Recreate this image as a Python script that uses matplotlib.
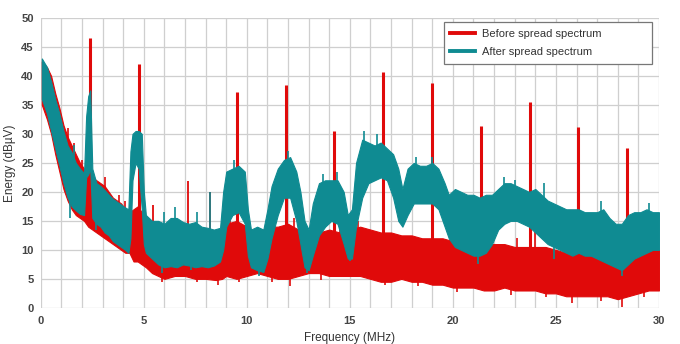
import matplotlib
matplotlib.use("Agg")
import matplotlib.pyplot as plt
import numpy as np

plt.rcParams["font.family"] = ["Liberation Sans", "DejaVu Sans"]

# "after spread spectrum" envelope (MHz, dBuV upper, dBuV lower)
after_f = [0.05, 0.3, 0.5, 0.7, 0.9, 1.1, 1.3, 1.5, 1.7, 1.9, 2.1, 2.2, 2.3, 2.4, 2.5,
           2.7, 2.9, 3.1, 3.3, 3.5, 3.7, 3.9, 4.1, 4.25, 4.35, 4.45, 4.6, 4.75, 4.9, 5.0,
           5.1, 5.4, 5.7, 6.0, 6.3, 6.6, 6.9, 7.2, 7.5, 7.8, 8.1, 8.4, 8.7, 8.85, 9.0,
           9.3, 9.6, 9.9, 10.05, 10.2, 10.5, 10.8, 11.0, 11.2, 11.5, 11.8, 12.1, 12.4, 12.6,
           12.8, 13.0, 13.2, 13.5, 13.8, 14.1, 14.4, 14.7, 14.9, 15.1, 15.3, 15.6, 15.9, 16.2,
           16.5, 16.8, 17.1, 17.35, 17.55, 17.8, 18.1, 18.4, 18.7, 19.0, 19.3, 19.6, 19.8,
           20.1, 20.4, 20.7, 21.0, 21.3, 21.6, 21.9, 22.2, 22.5, 22.8, 23.1, 23.4, 23.7,
           24.0, 24.3, 24.6, 24.9, 25.2, 25.5, 25.8, 26.1, 26.4, 26.7, 27.0, 27.3, 27.6,
           27.9, 28.2, 28.5, 28.8, 29.1, 29.4, 29.7, 30.0]
after_hi = [43.0, 41.5, 39.0, 36.0, 33.5, 30.5, 28.0, 26.8, 25.0, 24.0, 23.2, 33.0, 36.5, 37.5, 24.0,
            21.5, 21.0, 20.3, 19.5, 18.8, 18.3, 17.8, 17.3, 17.0, 27.0, 30.0, 30.5, 30.5, 30.0, 20.0,
            16.0, 15.0, 15.0, 14.5, 15.5, 15.5, 14.8, 14.5, 14.8, 14.0, 13.8, 13.5, 13.8, 20.0, 23.5,
            24.0, 24.5, 23.5, 17.0, 13.5, 14.0, 13.5, 17.0, 21.0, 24.0, 25.5, 26.0, 23.5, 20.0,
            15.0, 13.5, 18.0, 21.5, 22.0, 22.0, 22.0, 20.0, 16.0, 17.0, 25.0, 29.0, 28.5, 28.0,
            28.5, 27.5, 26.5, 24.0, 20.5, 24.0, 25.0, 24.5, 24.5, 25.0, 24.0, 21.5, 19.5,
            20.5, 20.0, 19.5, 19.5, 19.0, 19.5, 19.5, 20.5, 21.5, 21.5, 21.0, 20.5, 20.0,
            20.5, 19.5, 18.5, 18.0, 17.5, 17.0, 17.0, 17.0, 16.5, 16.5, 16.5, 17.0, 15.5,
            14.5, 14.5, 16.0, 16.5, 16.5, 17.0, 16.5, 16.5]
after_lo = [36.0, 33.5, 30.5, 27.5, 24.5, 21.5, 19.0, 17.5, 16.8, 16.2, 16.0, 22.5, 23.0, 24.0, 15.5,
            14.5, 14.0, 13.0, 12.5, 11.5, 11.0, 10.5, 10.0, 9.5, 12.0, 22.0, 25.0, 24.0, 17.0, 11.0,
            9.5, 8.5, 7.5, 7.0, 7.2, 7.0, 7.5, 7.3, 7.0, 7.2, 7.0, 7.3, 8.0, 10.0, 14.0,
            16.0, 16.5, 14.5, 9.0, 7.0, 6.5, 6.2, 8.5, 12.0, 16.0, 19.0, 19.0, 15.0, 11.0,
            7.0, 6.5, 9.0, 12.5, 14.0, 15.0, 14.5, 11.0, 8.5, 8.5, 14.0, 19.0, 21.5, 22.0,
            22.5, 22.0, 19.0, 15.0, 14.0, 16.0, 18.0, 18.0, 18.0, 18.0, 17.0, 14.0, 12.0,
            10.5, 10.0, 9.5, 9.0, 9.0, 9.5, 11.0, 13.5, 14.5, 15.0, 15.0, 14.5, 14.0,
            13.0, 12.0, 11.0, 10.5, 10.0, 9.5, 9.0, 9.5, 9.0, 9.0, 8.5, 8.0, 7.5,
            7.0, 6.5, 7.5, 8.5, 9.0, 9.5, 10.0, 10.0]

# "before spread spectrum" envelope
before_f = [0.05, 0.3, 0.5, 0.7, 0.9, 1.1, 1.3, 1.5, 1.7, 1.9, 2.1, 2.3, 2.5, 2.7, 2.9,
            3.1, 3.3, 3.5, 3.7, 3.9, 4.1, 4.3, 4.5, 4.7, 4.9, 5.1, 5.4, 5.7, 6.0, 6.5,
            7.0, 7.5, 8.0, 8.5, 8.8, 9.0, 9.5, 10.0, 10.5, 11.0, 11.5, 12.0, 12.5, 13.0,
            13.5, 14.0, 14.5, 15.0, 15.5, 16.0, 16.5, 17.0, 17.5, 18.0, 18.5, 19.0, 19.5,
            20.0, 20.5, 21.0, 21.5, 22.0, 22.5, 23.0, 23.5, 24.0, 24.5, 25.0, 25.5, 26.0,
            26.5, 27.0, 27.5, 28.0, 28.5, 29.0, 29.5, 30.0]
before_hi = [42.5, 41.5, 40.0, 37.0, 34.5, 31.5, 29.5, 28.0, 26.5, 25.0, 24.0, 23.0, 22.5, 22.0, 21.5,
             21.0, 20.0, 19.0, 18.5, 18.0, 17.0, 16.5, 17.0, 17.5, 16.5, 14.0, 13.5, 13.0, 13.0, 13.0,
             13.0, 12.5, 12.5, 12.5, 13.0, 14.5, 15.0, 14.0, 12.5, 14.0, 14.0, 14.5, 13.5, 13.0,
             13.0, 13.5, 13.0, 13.5, 14.0, 13.5, 13.0, 13.0, 12.5, 12.5, 12.0, 12.0, 12.0,
             11.5, 11.0, 11.0, 11.0, 11.0, 11.0, 10.5, 10.5, 10.5, 10.5, 10.0, 9.5, 9.5,
             9.0, 9.0, 8.5, 8.0, 9.0, 9.5, 10.0, 10.0]
before_lo = [35.0, 32.5, 30.0, 26.5, 23.5, 20.5, 18.5, 17.0, 16.0, 15.5, 15.0, 14.0, 13.5, 13.0, 12.5,
             12.0, 11.5, 11.0, 10.5, 10.0, 9.5, 9.5, 8.0, 8.0, 7.5, 7.0, 6.0, 5.5, 5.0, 5.5,
             5.5, 5.0, 5.0, 4.8, 5.0, 5.5, 5.0, 5.5, 6.0, 5.5, 5.0, 5.0, 5.5, 6.0,
             6.0, 5.5, 5.5, 5.5, 5.5, 5.0, 4.5, 4.5, 5.0, 4.5, 4.5, 4.0, 4.0,
             3.5, 3.5, 3.5, 3.0, 3.0, 3.5, 3.0, 3.0, 3.0, 2.5, 2.5, 2.0, 2.0,
             2.0, 2.0, 2.0, 1.5, 2.0, 2.5, 3.0, 3.0]

# clock harmonics (before) and a few smaller spurs
harm_f = [2.38, 4.76, 9.5, 11.88, 14.23, 16.62, 19.0, 21.35, 23.72, 26.08, 28.45]
harm_db = [46.5, 42.0, 37.2, 38.4, 30.5, 40.7, 38.8, 31.4, 35.5, 31.2, 27.6]
spur_f = [5.45, 7.12, 8.2]
spur_db = [17.8, 21.8, 20.0]

# noise excursions (freq, level)
red_up_f = [1.3, 1.6, 2.0, 3.1, 3.8, 4.1, 9.2, 11.3, 12.3, 14.5, 15.4, 20.8, 23.1, 24.0, 29.7]
red_up_db = [31.0, 28.5, 25.5, 22.5, 19.5, 18.5, 16.0, 15.5, 15.5, 14.5, 15.0, 12.5, 12.0, 13.0, 11.5]
red_dn_f = [5.9, 7.6, 8.6, 9.6, 11.2, 12.1, 13.6, 16.7, 18.3, 20.2, 22.8, 24.5, 25.8, 27.2, 28.2, 29.3]
red_dn_db = [4.5, 4.5, 4.0, 4.5, 4.5, 3.8, 4.8, 4.0, 3.8, 2.8, 2.2, 1.8, 0.8, 1.2, 0.2, 1.8]
teal_up_f = [1.6, 6.0, 6.5, 7.6, 8.2, 9.4, 12.0, 13.7, 14.4, 15.7, 16.3, 18.2, 19.0, 22.5, 23.0, 24.4, 27.2, 29.5]
teal_up_db = [28.0, 16.5, 17.4, 16.5, 20.0, 25.5, 27.0, 23.0, 23.5, 30.5, 30.0, 26.0, 26.0, 22.5, 22.0, 21.5, 18.5, 18.0]
teal_dn_f = [1.4, 2.7, 5.9, 7.3, 10.6, 12.9, 15.0, 21.2, 24.9, 28.2]
teal_dn_db = [15.5, 13.5, 6.0, 6.5, 5.5, 6.0, 8.0, 7.5, 8.5, 5.5]

red = "#e00a0a"
teal = "#0f8b92"

fig, ax = plt.subplots(figsize=(6.8, 3.44), dpi=100)
fig.subplots_adjust(left=0.060, right=0.969, bottom=0.105, top=0.948)

lo_at = lambda f: np.interp(f, before_f, before_lo)
hi_at = lambda f: np.interp(f, before_f, before_hi)
ahi_at = lambda f: np.interp(f, after_f, after_hi)
alo_at = lambda f: np.interp(f, after_f, after_lo)

ax.fill_between(before_f, before_lo, before_hi, color=red, lw=0.8, zorder=2)
ax.vlines(red_up_f, lo_at(red_up_f) + 2, red_up_db, color=red, lw=1.2, zorder=2)
ax.vlines(red_dn_f, red_dn_db, hi_at(red_dn_f) - 2, color=red, lw=1.2, zorder=2)
ax.vlines(harm_f, lo_at(harm_f) + 1, harm_db, color=red, lw=2.2, zorder=2)
ax.vlines(spur_f, lo_at(spur_f) + 1, spur_db, color=red, lw=1.3, zorder=2)
ax.plot([], [], color=red, lw=2.8, label="Before spread spectrum")

ax.fill_between(after_f, after_lo, after_hi, color=teal, lw=0.8, zorder=3)
ax.vlines(teal_up_f, alo_at(teal_up_f) + 1, teal_up_db, color=teal, lw=1.2, zorder=3)
ax.vlines(teal_dn_f, teal_dn_db, ahi_at(teal_dn_f) - 1, color=teal, lw=1.2, zorder=3)
ax.plot([], [], color=teal, lw=2.8, label="After spread spectrum")

ax.set_xlim(0, 30)
ax.set_ylim(0, 50)
ax.set_xticks(np.arange(0, 31, 5))
ax.set_xticks(np.arange(0, 31, 1), minor=True)
ax.set_yticks(np.arange(0, 51, 5))
ax.grid(True, which="both", axis="x", color="#cfcfcf", lw=0.9, zorder=0)
ax.grid(True, which="major", axis="y", color="#cfcfcf", lw=0.9, zorder=0)
ax.set_axisbelow(True)
for s in ax.spines.values():
    s.set_visible(False)
ax.tick_params(which="both", length=0, labelsize=8, labelcolor="#444444")
ax.tick_params(axis="x", pad=6)
ax.tick_params(axis="y", pad=5)
for lab in ax.get_xticklabels() + ax.get_yticklabels():
    lab.set_fontweight("bold")

ax.set_xlabel("Frequency (MHz)", fontsize=8.5, color="#333333", labelpad=4)
ax.set_ylabel("Energy (dBµV)", fontsize=8.5, color="#333333", labelpad=4)

leg = ax.legend(loc="upper left", fontsize=8, fancybox=False, framealpha=1,
                edgecolor="#777777", handlelength=2.2, handletextpad=0.6,
                borderpad=0.6, labelspacing=0.75, borderaxespad=0,
                mode="expand", bbox_to_anchor=(0.652, 0.852, 0.337, 0.134))
leg.get_frame().set_linewidth(0.9)
for t in leg.get_texts():
    t.set_color("#333333")

fig.savefig("out.png", dpi=100)
